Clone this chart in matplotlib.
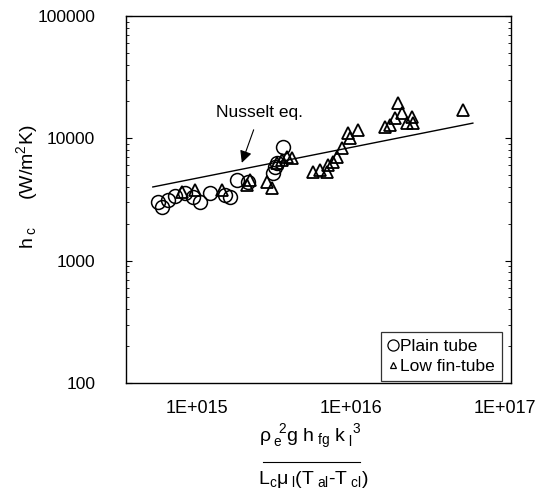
import numpy as np
import matplotlib
matplotlib.use('Agg')
import matplotlib.pyplot as plt
from matplotlib.lines import Line2D
from matplotlib.ticker import LogLocator, NullFormatter, FixedLocator, FixedFormatter

plt.rcParams['font.family'] = ['Liberation Sans', 'DejaVu Sans']
plt.rcParams['mathtext.fontset'] = 'custom'
plt.rcParams['mathtext.rm'] = 'Liberation Sans'
plt.rcParams['mathtext.it'] = 'Liberation Sans'
plt.rcParams['mathtext.bf'] = 'Liberation Sans:bold'

# plain tube (circles)
plain_x = [5.58e14, 5.93e14, 6.48e14, 7.20e14, 8.36e14, 9.42e14, 1.046e15, 1.21e15,
           1.52e15, 1.64e15, 1.82e15, 2.14e15, 3.12e15, 3.21e15, 3.31e15, 3.62e15]
plain_y = [3010, 2740, 3130, 3350, 3570, 3310, 3010, 3570,
           3440, 3310, 4560, 4390, 5200, 5820, 6290, 8490]

# low fin-tube (triangles)
fin_x = [7.99e14, 9.70e14, 1.45e15, 2.21e15, 2.11e15, 2.85e15, 3.07e15, 3.31e15,
         3.56e15, 3.84e15, 4.14e15, 5.67e15, 6.29e15, 6.98e15, 7.09e15, 7.64e15,
         8.11e15, 8.74e15, 9.56e15, 9.85e15, 1.11e16, 1.66e16, 1.79e16, 1.93e16,
         2.02e16, 2.14e16, 2.31e16, 2.49e16, 2.53e16, 5.34e16]
fin_y = [3640, 3780, 3780, 4560, 4150, 4390, 3930, 6290,
         6650, 7030, 6900, 5300, 5500, 5300, 6060, 6400,
         7030, 8340, 11050, 10050, 11700, 12370, 12840, 14650,
         19430, 16110, 13330, 14930, 13330, 17030]

# Nusselt equation line end points
nusselt_x = [5.18e14, 6.20e16]
nusselt_y = [4000, 13300]

x_ticks = [1e15, 1e16, 1e17]
x_tick_labels = ['1E+015', '1E+016', '1E+017']
y_ticks = [100, 1000, 10000, 100000]
y_tick_labels = ['100', '1000', '10000', '100000']

fig = plt.figure(figsize=(5.4, 4.98), dpi=100)
ax = fig.add_axes([0.233, 0.231, 0.713, 0.737])

ax.plot(nusselt_x, nusselt_y, color='black', lw=1.0, zorder=2)
ax.plot(plain_x, plain_y, linestyle='none', marker='o', markersize=10,
        markerfacecolor='none', markeredgecolor='black', markeredgewidth=1.1, zorder=3)
ax.plot(fin_x, fin_y, linestyle='none', marker='^', markersize=9,
        markerfacecolor='none', markeredgecolor='black', markeredgewidth=1.3, zorder=4)

ax.set_xscale('log')
ax.set_yscale('log')
ax.set_xlim(10 ** 14.539, 10 ** 17.039)
ax.set_ylim(100, 100000)

ax.xaxis.set_major_locator(FixedLocator(x_ticks))
ax.xaxis.set_major_formatter(FixedFormatter(x_tick_labels))
ax.xaxis.set_minor_locator(FixedLocator([]))
ax.yaxis.set_major_locator(FixedLocator(y_ticks))
ax.yaxis.set_major_formatter(FixedFormatter(y_tick_labels))
ax.yaxis.set_minor_locator(LogLocator(base=10, subs=np.arange(2, 10)))
ax.yaxis.set_minor_formatter(NullFormatter())

ax.tick_params(axis='x', which='both', length=0, pad=12, labelsize=13)
ax.tick_params(axis='y', which='major', direction='in', length=4, width=0.8,
               pad=22, labelsize=12.5, right=True)
ax.tick_params(axis='y', which='minor', direction='in', length=2.5, width=0.6, right=True)
for sp in ax.spines.values():
    sp.set_linewidth(1.0)

ax.annotate('Nusselt eq.', xy=(1.96e15, 6300), xytext=(2.56e15, 16100),
            ha='center', va='center', fontsize=12.5,
            arrowprops=dict(arrowstyle='-|>', color='black', lw=0.8,
                            mutation_scale=18, shrinkA=5, shrinkB=0))

legend_handles = [
    Line2D([0], [0], linestyle='none', marker='o', markersize=8, markerfacecolor='none',
           markeredgecolor='black', markeredgewidth=0.9, label='Plain tube'),
    Line2D([0], [0], linestyle='none', marker='^', markersize=5, markerfacecolor='none',
           markeredgecolor='black', markeredgewidth=0.9, label='Low fin-tube'),
]
leg = ax.legend(handles=legend_handles, loc='lower right', bbox_to_anchor=(0.977, 0.005),
                borderaxespad=0, fontsize=12.5, frameon=True, fancybox=False,
                edgecolor='black', borderpad=0.4, handlelength=0.55,
                handletextpad=0.15, labelspacing=0.3)
leg.get_frame().set_linewidth(0.9)

fig.text(0.05, 0.624, r'h$_{\ c}$     (W/m$^2$K)', rotation=90, ha='center', va='center',
         fontsize=14)

fig.text(0.574, 0.1124, r'$\rho_{\ e}^{\ \ 2}$g h$_{\ fg}$ k$_{\ l}^{\ \ 3}$', ha='center',
         va='baseline', fontsize=14)
fig.add_artist(Line2D([0.487, 0.667], [0.072, 0.072], color='black', lw=0.8,
                      transform=fig.transFigure))
fig.text(0.58, 0.028, r'L$_{c}\mu_{\ l}$(T$_{\ al}$-T$_{\ cl}$)', ha='center',
         va='baseline', fontsize=14)

fig.savefig('out.png', dpi=100)
plt.close(fig)
